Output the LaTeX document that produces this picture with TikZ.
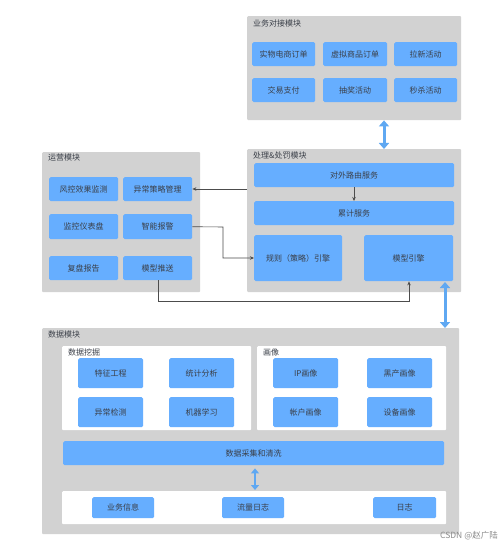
\documentclass[tikz,border=0pt]{standalone}
\usepackage{fontspec}
\newfontfamily\cjk{Noto Sans CJK SC}
\usetikzlibrary{arrows.meta}
\definecolor{modgray}{HTML}{D2D2D2}
\definecolor{boxblue}{HTML}{66AEFF}
\definecolor{arrblue}{HTML}{5FA8F2}
\definecolor{txt}{HTML}{3A3F48}
\tikzset{
  module/.style={fill=modgray, draw=none, rounded corners=1pt},
  panel/.style={fill=white, draw=none, rounded corners=1pt},
  bbox/.style={fill=boxblue, draw=none, rounded corners=1.5pt, font=\cjk\fontsize{8}{9.5}\selectfont, text=txt, inner sep=0pt},
  ttl/.style={anchor=west, font=\cjk\fontsize{8}{9.5}\selectfont, text=txt, inner sep=0pt},
  conn/.style={draw=black!70, line width=0.6pt, -{Stealth[length=4pt,width=3.5pt]}},
  dbl/.style={draw=arrblue, line width=3pt, {Triangle[width=10pt,length=6pt]}-{Triangle[width=10pt,length=6pt]}, shorten <=0pt, shorten >=0pt},
}
\newcommand{\bx}[6]{\node[bbox, minimum width={#4-#2}, minimum height={#5-#3}, anchor=north west] (#1) at (#2,#3) {#6};}
\begin{document}
\begin{tikzpicture}[x=1pt,y=-1pt]
\useasboundingbox (0,0) rectangle (500,548);
\fill[white] (0,0) rectangle (500,548);
% ---- business module
\node[module, minimum width=214, minimum height=104, anchor=north west, inner sep=0pt] (biz) at (247,16) {};
\node[ttl] (bizt) at (253,23) {业务对接模块};
\bx{b1}{252}{42}{315}{66}{实物电商订单}
\bx{b2}{323}{42}{387}{66}{虚拟商品订单}
\bx{b3}{394}{42}{457}{66}{拉新活动}
\bx{b4}{252}{78}{315}{102}{交易支付}
\bx{b5}{323}{78}{387}{102}{抽奖活动}
\bx{b6}{394}{78}{457}{102}{秒杀活动}
% ---- processing module
\node[module, minimum width=214, minimum height=143, anchor=north west, inner sep=0pt] (proc) at (247,149) {};
\node[ttl] (proct) at (253,155) {处理\&处罚模块};
\bx{route}{254}{163}{454}{187}{对外路由服务}
\bx{accum}{254}{201}{454}{225}{累计服务}
\bx{rule}{254}{235}{342}{281}{规则（策略）引擎}
\bx{model}{364}{235}{453}{281}{模型引擎}
% ---- operations module
\node[module, minimum width=158, minimum height=140, anchor=north west, inner sep=0pt] (ops) at (42,152) {};
\node[ttl] (opst) at (48,157) {运营模块};
\bx{o1}{49}{177}{118}{201}{风控效果监测}
\bx{o2}{123}{177}{192}{201}{异常策略管理}
\bx{o3}{49}{214}{118}{239}{监控仪表盘}
\bx{o4}{123}{214}{192}{239}{智能报警}
\bx{o5}{49}{256}{118}{280}{复盘报告}
\bx{o6}{123}{256}{192}{280}{模型推送}
% ---- data module
\node[module, minimum width=417, minimum height=206, anchor=north west, inner sep=0pt] (data) at (42,328) {};
\node[ttl] (datat) at (48,334) {数据模块};
\node[panel, minimum width=189, minimum height=84, anchor=north west, inner sep=0pt] (mine) at (62,346) {};
\node[ttl] (minet) at (68,352) {数据挖掘};
\bx{m1}{78}{358}{143}{388}{特征工程}
\bx{m2}{169}{358}{234}{388}{统计分析}
\bx{m3}{78}{397}{143}{427}{异常检测}
\bx{m4}{169}{397}{234}{427}{机器学习}
\node[panel, minimum width=189, minimum height=84, anchor=north west, inner sep=0pt] (portrait) at (257,346) {};
\node[ttl] (portt) at (263,352) {画像};
\bx{p1}{273}{358}{338}{388}{IP画像}
\bx{p2}{367}{358}{432}{388}{黑产画像}
\bx{p3}{273}{397}{338}{427}{帐户画像}
\bx{p4}{367}{397}{432}{427}{设备画像}
\bx{clean}{63}{441}{444}{465}{数据采集和清洗}
\node[panel, minimum width=384, minimum height=33, anchor=north west, inner sep=0pt] (src) at (62,491) {};
\bx{s1}{92}{497}{154}{518}{业务信息}
\bx{s2}{222}{497}{284}{518}{流量日志}
\bx{s3}{373}{497}{436}{518}{日志}
% ---- connectors
\draw[conn] (route.south -| 354,0) -- (accum.north -| 354,0);
\draw[conn] (proc.west |- 0,189) -- (o2.east |- 0,189);
\draw[conn] (o4.east) -- (223,227) -- (223,258) -- (rule.west |- 0,258);
\draw[conn] (o6.south -| 158,0) -- (158,301) -- (409,301) -- (model.south -| 409,0);
\draw[dbl] (biz.south -| 384,0) -- (proc.north -| 384,0);
\draw[dbl] (445,282) -- (data.north -| 445,0);
\path (clean.south -| 255,0) ++(0,3) coordinate (c1) (src.north -| 255,0) ++(0,-1) coordinate (c2);
\draw[dbl, line width=2.4pt, {Triangle[width=8pt,length=5pt]}-{Triangle[width=8pt,length=5pt]}] (c1) -- (c2);
% ---- watermark
\node[anchor=east, font=\cjk\fontsize{8.5}{10}\selectfont, text=black!45, inner sep=0pt] (wm) at (498,536) {CSDN @赵广陆};
\end{tikzpicture}
\end{document}
